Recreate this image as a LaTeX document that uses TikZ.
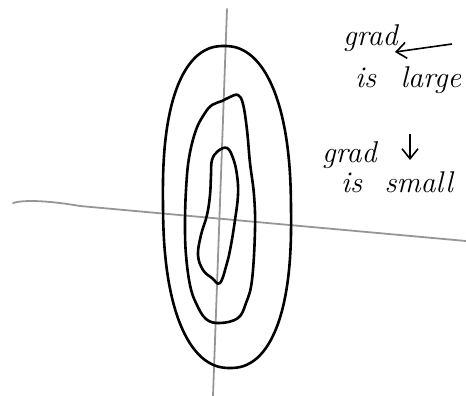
\documentclass[tikz,border=0pt]{standalone}
\usepackage{tikz}
\usetikzlibrary{arrows.meta}
\definecolor{AxisGray}{RGB}{150,150,150}

\begin{document}
\begin{tikzpicture}[x=1pt,y=-1pt,
axis/.style={draw=AxisGray,line width=1.8pt,line cap=round},
level/.style={draw=black,line width=2.6pt,line join=round},
note/.style={font=\fontsize{30}{32}\selectfont\itshape,inner sep=0pt,anchor=base west},
hint/.style={line width=1.6pt,-{Straight Barb[length=10pt,width=16pt]}}
]
\useasboundingbox (0,0) rectangle (466,396);
% axes
\coordinate (xl) at (13,203);
\coordinate (xr) at (466,241);
\coordinate (yt) at (227,9);
\coordinate (yb) at (213,396);
\draw[axis] (xl) .. controls (22,200) and (45,200) .. (80,206) -- (xr);
\draw[axis] (yt) -- (yb);
% level curves
\draw[level] plot[smooth cycle,domain=2.5:357.5,samples=72]
  ({227+64*sign(cos(\x))*abs(cos(\x))^0.88+3*sin(\x)}, {207+161*sign(sin(\x))*abs(sin(\x))^0.82});
\draw[level] plot[smooth cycle,tension=0.65] coordinates {(222,101) (230,97) (238,95) (243,104) (247,130) (250,163) (254,195) (255,230) (252,280) (246,303) (238,318) (220,323) (206,319) (196,303) (190,285) (186,255) (185,225) (186,190) (189,158) (196,130) (205,113) (212,105)};
\draw[level] plot[smooth cycle,tension=0.65] coordinates {(218,151) (227,148) (233,158) (237,175) (238,195) (235,220) (231,245) (227,263) (220,283) (212,278) (203,270) (198,255) (201,235) (207,215) (210,195) (211,175) (212,160)};
% notes
\node[note] (g1) at (343,46) {grad};
\node[note] (l1) at (355,88) {is \hspace{14pt}large};
\coordinate (a1s) at (452,44);
\coordinate (a1e) at (395,52);
\draw[hint] (a1s) -- (a1e);
\node[note] (g2) at (322,162) {grad};
\node[note] (l2) at (341,192) {is \hspace{12pt}small};
\coordinate (a2s) at (410,134);
\coordinate (a2e) at (410,160);
\draw[hint] (a2s) -- (a2e);
\end{tikzpicture}
\end{document}
